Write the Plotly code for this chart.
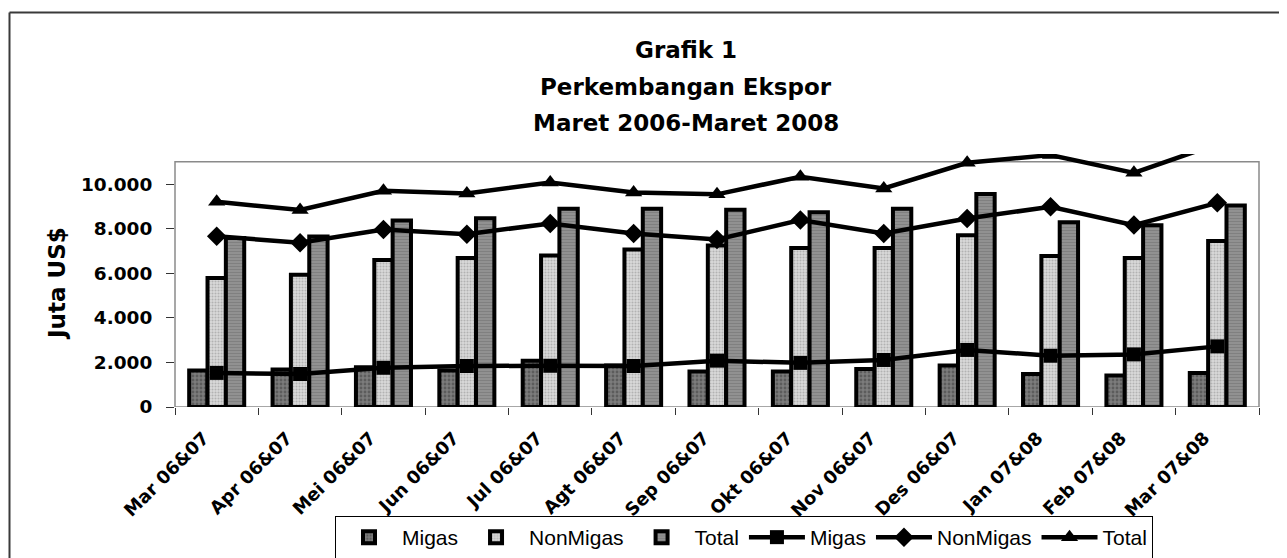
import plotly.graph_objects as go

categories = ["Mar 06&07", "Apr 06&07", "Mei 06&07", "Jun 06&07", "Jul 06&07", "Agt 06&07",
              "Sep 06&07", "Okt 06&07", "Nov 06&07", "Des 06&07", "Jan 07&08", "Feb 07&08", "Mar 07&08"]

# bars: previous year
bar_migas = [1640, 1680, 1780, 1640, 2080, 1860, 1590, 1590, 1710, 1860, 1480, 1410, 1530]
bar_nonmigas = [5790, 5930, 6600, 6680, 6800, 7070, 7250, 7130, 7130, 7700, 6770, 6680, 7450]
bar_total = [7580, 7650, 8370, 8470, 8890, 8890, 8850, 8740, 8890, 9560, 8290, 8150, 9040]

# lines: current year
line_migas = [1530, 1480, 1760, 1840, 1850, 1840, 2080, 1980, 2110, 2560, 2300, 2360, 2720]
line_nonmigas = [7665, 7365, 7965, 7755, 8235, 7785, 7515, 8385, 7785, 8460, 8980, 8160, 9160]
line_total = [9205, 8835, 9700, 9580, 10075, 9625, 9540, 10330, 9805, 10955, 11300, 10505, 11800]

yticks = [0, 2000, 4000, 6000, 8000, 10000]

W, H = 1287, 558
OFF = 8  # page body margin
PL, PR, PT, PB = 175 - OFF, 1259 - OFF, 154 - OFF, 407 - OFF


def px2x(px):
    return (px - OFF - PL) / (PR - PL)


def py2y(py):
    return (PB - (py - OFF)) / (PB - PT)


BOLD = "DejaVu Sans"
fig = go.Figure()

fig.add_trace(go.Bar(
    x=categories, y=bar_migas, name="Migas",
    marker=dict(color="#6e6e6e", line=dict(color="black", width=4),
                pattern=dict(shape=".", fgcolor="#3c3c3c", bgcolor="#7c7c7c", size=4, solidity=0.4)),
))
fig.add_trace(go.Bar(
    x=categories, y=bar_nonmigas, name="NonMigas",
    marker=dict(color="#cfcfcf", line=dict(color="black", width=4),
                pattern=dict(shape=".", fgcolor="#8a8a8a", bgcolor="#dadada", size=3, solidity=0.4)),
))
fig.add_trace(go.Bar(
    x=categories, y=bar_total, name="Total",
    marker=dict(color="#888888", line=dict(color="black", width=4),
                pattern=dict(shape="-", fgcolor="#6e6e6e", bgcolor="#929292", size=3, solidity=0.4)),
))

fig.add_trace(go.Scatter(
    x=categories, y=line_migas, name="Migas", mode="lines+markers",
    line=dict(color="black", width=4.5),
    marker=dict(symbol="square", size=14, color="black"),
))
fig.add_trace(go.Scatter(
    x=categories, y=line_nonmigas, name="NonMigas", mode="lines+markers",
    line=dict(color="black", width=4.5),
    marker=dict(symbol="diamond", size=15, color="black"),
))
fig.add_trace(go.Scatter(
    x=categories, y=line_total, name="Total", mode="lines+markers",
    line=dict(color="black", width=4.5),
    marker=dict(symbol="triangle-up", size=15, color="black"),
))

shapes = [
    # plot-area frame (gray) up to 11.000
    dict(type="rect", xref="paper", yref="y", x0=0, x1=1, y0=0, y1=11000,
         line=dict(color="#8a8a8a", width=1.5), layer="below"),
    # outer chart border (top and left)
    dict(type="line", xref="paper", yref="paper", x0=px2x(9.5), x1=px2x(1300), y0=py2y(12.5), y1=py2y(12.5),
         line=dict(color="#3a3a3a", width=2)),
    dict(type="line", xref="paper", yref="paper", x0=px2x(9.5), x1=px2x(9.5), y0=py2y(12.5), y1=py2y(570),
         line=dict(color="#3a3a3a", width=2)),
]

title_lines = [("Grafik 1", 50), ("Perkembangan Ekspor", 87), ("Maret 2006-Maret 2008", 123)]
annotations = []
for txt, py in title_lines:
    annotations.append(dict(text=txt, xref="paper", yref="paper", x=px2x(686), y=py2y(py),
                            xanchor="center", yanchor="middle", showarrow=False,
                            font=dict(family=BOLD, size=23, color="black", weight="bold")))
annotations.append(dict(text="Juta US$", xref="paper", yref="paper", x=px2x(57), y=py2y(284),
                        xanchor="center", yanchor="middle", showarrow=False, textangle=-90,
                        font=dict(family=BOLD, size=23, color="black", weight="bold")))

fig.update_layout(
    width=W, height=H,
    margin=dict(l=PL, r=W - PR, t=PT, b=H - PB, autoexpand=False),
    paper_bgcolor="white", plot_bgcolor="white",
    barmode="group", bargap=0.34, bargroupgap=0,
    separators=",.",
    showlegend=True,
    legend=dict(orientation="h", x=px2x(335), y=py2y(516), xanchor="left", yanchor="top",
                bgcolor="white", bordercolor="black", borderwidth=1,
                font=dict(family="Liberation Sans, Arial", size=21, color="black"),
                itemwidth=56, tracegroupgap=0, traceorder="normal"),
    shapes=shapes,
    annotations=annotations,
    xaxis=dict(type="category", range=[-0.5, len(categories) - 0.5], autorange=False,
               tickson="boundaries", ticks="outside", ticklen=7, tickcolor="#333",
               tickwidth=1, showline=False, showgrid=False, zeroline=False, tickangle=-45,
               tickfont=dict(family=BOLD, size=18, color="black", weight="bold"),
               ticklabelstandoff=16, ticklabelshift=-13, automargin=False),
    yaxis=dict(range=[0, 11350], tickvals=yticks, tickformat=",d", ticks="outside", ticklen=8,
               tickcolor="#333", tickwidth=1, showline=False, showgrid=False, zeroline=False,
               tickfont=dict(family=BOLD, size=18.5, color="black", weight="bold"),
               ticklabelstandoff=10, automargin=False),
)

fig.write_html("out.html")
